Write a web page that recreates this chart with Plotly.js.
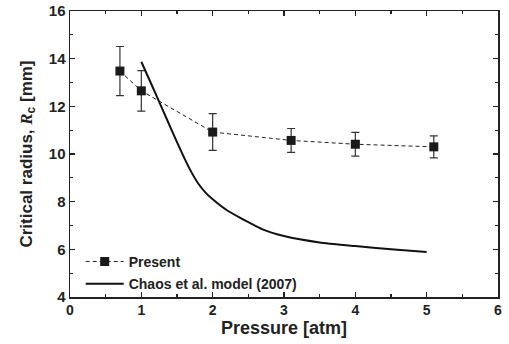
<!DOCTYPE html>
<html>
<head>
<meta charset="utf-8">
<script src="https://cdn.plot.ly/plotly-3.0.1.min.js"></script>
<style>html,body{margin:0;padding:0;background:#fff;}#chart{width:509px;height:344px;}</style>
</head>
<body>
<div id="chart"></div>
<script>
// Present (measured)
const presentX = [0.7, 1.0, 2.0, 3.1, 4.0, 5.1];
const presentY = [13.48, 12.65, 10.92, 10.57, 10.41, 10.30];
const presentErr = [1.03, 0.85, 0.77, 0.50, 0.50, 0.46];

// Chaos et al. model (2007)
const chaosX = [1.0, 1.1, 1.2, 1.3, 1.4, 1.5, 1.6, 1.7, 1.8, 1.9, 2.0, 2.2, 2.4, 2.7, 3.0, 3.5, 4.0, 4.5, 5.0];
const chaosY = [13.87, 13.2, 12.53, 11.85, 11.17, 10.5, 9.85, 9.25, 8.75, 8.38, 8.1, 7.64, 7.3, 6.84, 6.56, 6.29, 6.14, 6.0, 5.89];

const xTicks = [0, 1, 2, 3, 4, 5, 6];
const yTicks = [4, 6, 8, 10, 12, 14, 16];
const seriesNames = ['Present', 'Chaos et al. model (2007)'];

const fontFam = 'Liberation Sans, Arial, sans-serif';
const ink = '#222';

const traces = [
  {
    x: presentX, y: presentY, name: '<b>' + seriesNames[0] + '</b>', type: 'scatter', mode: 'lines+markers',
    legendgroup: 'a',
    line: {color: ink, width: 1, dash: '4px,3px'},
    marker: {symbol: 'square', size: 9, color: '#1a1a1a'},
    error_y: {type: 'data', array: presentErr, visible: true, color: '#333', thickness: 1.2, width: 4}
  },
  {
    x: chaosX, y: chaosY, name: '<b>' + seriesNames[1] + '</b>', type: 'scatter', mode: 'lines',
    legendgroup: 'b',
    line: {color: '#111', width: 2, shape: 'spline', smoothing: 0.6}
  }
];

const axisCommon = {
  showline: true, linecolor: ink, linewidth: 1.5, mirror: 'ticks',
  ticks: 'inside', ticklen: 5, tickwidth: 1.2, tickcolor: ink,
  showgrid: false, zeroline: false
};

const layout = {
  width: 509, height: 344,
  margin: {l: 70, r: 11, t: 11, b: 47},
  paper_bgcolor: '#fff', plot_bgcolor: '#fff',
  font: {family: fontFam, color: ink},
  showlegend: true,
  legend: {
    x: 0.025, y: -0.01, xanchor: 'left', yanchor: 'bottom',
    bgcolor: 'rgba(0,0,0,0)', borderwidth: 0,
    font: {family: fontFam, size: 14, color: ink},
    tracegroupgap: 1, itemwidth: 38
  },
  xaxis: Object.assign({}, axisCommon, {
    range: [0, 6], tickvals: xTicks, ticktext: xTicks.map(v => '<b>' + v + '</b>'),
    tickfont: {family: fontFam, size: 14, color: ink},
    minor: {ticks: 'inside', dtick: 0.5, ticklen: 3, tickcolor: ink},
    title: {text: '<b>Pressure [atm]</b>', font: {family: fontFam, size: 18, color: ink}, standoff: 3}
  }),
  yaxis: Object.assign({}, axisCommon, {
    range: [4, 16], tickvals: yTicks, ticktext: yTicks.map(v => '<b>' + v + '</b>'),
    tickfont: {family: fontFam, size: 15, color: ink},
    minor: {ticks: 'inside', dtick: 1, ticklen: 3, tickcolor: ink},
    title: {text: '<b>Critical radius, <i><span style="font-family:Liberation Serif">R</span></i><sub>c</sub> [mm]</b>', font: {family: fontFam, size: 17, color: ink}, standoff: 12}
  })
};

Plotly.newPlot('chart', traces, layout, {staticPlot: true, displayModeBar: false});
</script>
</body>
</html>
